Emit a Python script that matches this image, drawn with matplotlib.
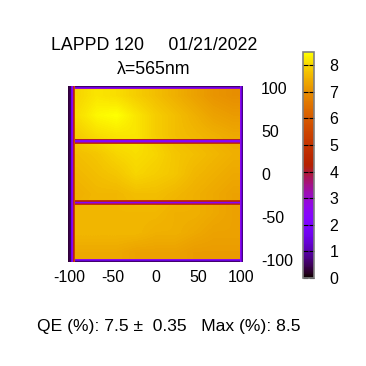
import numpy as np
import matplotlib
matplotlib.use("Agg")
import matplotlib.pyplot as plt
from matplotlib.colors import Normalize

plt.rcParams['font.family'] = ['Liberation Sans', 'DejaVu Sans']
plt.rcParams['axes.unicode_minus'] = False

# QE map (%), coarse readings, rows top -> bottom, columns left -> right
qe_x = [-95, -70, -45, -20, 5, 30, 55, 80, 100]
qe_y = [95, 70, 45, 28, 0, -25, -45, -70, -95]
qe_top = [[8.0, 8.2, 8.1, 7.9, 7.7, 7.5, 7.3, 7.1, 7.0],
          [8.1, 8.4, 8.5, 8.2, 7.9, 7.7, 7.5, 7.3, 7.2],
          [7.9, 8.1, 8.2, 8.2, 7.9, 7.7, 7.6, 7.5, 7.4]]
qe_mid = [[7.7, 7.8, 8.0, 8.1, 8.0, 7.8, 7.7, 7.6, 7.5],
          [7.6, 7.7, 7.8, 8.0, 7.9, 7.8, 7.6, 7.5, 7.4],
          [7.5, 7.6, 7.6, 7.7, 7.7, 7.6, 7.5, 7.4, 7.3]]
qe_bot = [[7.6, 7.6, 7.6, 7.6, 7.6, 7.5, 7.5, 7.4, 7.3],
          [7.6, 7.6, 7.6, 7.6, 7.5, 7.5, 7.4, 7.3, 7.3],
          [7.4, 7.4, 7.4, 7.3, 7.3, 7.3, 7.2, 7.2, 7.2]]

# window edges and grid spacers (values from outside going in)
edge_left = [0.3, 0.4, 0.5, 0.8, 1.6, 2.5, 4.0, 5.5]
edge_right = [0.7, 1.4, 2.6, 4.6]
edge_top = [0.6, 1.5, 3.0, 4.8]
edge_bottom = [0.6, 1.4, 2.7, 4.6]
spacer_y = [38, -33]
spacer_prof = [5.0, 4.0, 2.5, 2.3, 3.6, 5.0]

lim = 102
step = 1.0
vmin, vmax = 0, 8.5
cmap = plt.get_cmap('gnuplot')
norm = Normalize(vmin, vmax)

fig = plt.figure(figsize=(3.66, 3.66), dpi=100)
ax = fig.add_axes([68/366, 104/366, 175/366, 176/366])

qe = np.array(qe_top + qe_mid + qe_bot)
ax.imshow(qe, cmap=cmap, norm=norm, extent=[-lim, lim, -lim, lim],
          interpolation='bilinear', aspect='auto', origin='upper')

ys = np.array([-lim, lim])
xs = np.array([-lim, lim])

# spacers
for yc in spacer_y:
    n = len(spacer_prof)
    yb = yc + n*step/2 - np.arange(n+1)*step
    ax.pcolormesh(xs, yb[::-1], np.array(spacer_prof[::-1])[:, None], cmap=cmap, norm=norm)

# top / bottom edges
n = len(edge_top)
yb = lim - np.arange(n+1)*step
ax.pcolormesh(xs, yb[::-1], np.array(edge_top[::-1])[:, None], cmap=cmap, norm=norm)
n = len(edge_bottom)
yb = -lim + np.arange(n+1)*step
ax.pcolormesh(xs, yb, np.array(edge_bottom)[:, None], cmap=cmap, norm=norm)
# left / right edges
n = len(edge_right)
xb = lim - np.arange(n+1)*step
ax.pcolormesh(xb[::-1], ys, np.array(edge_right[::-1])[None, :], cmap=cmap, norm=norm)
n = len(edge_left)
xb = -lim + np.arange(n+1)*step
ax.pcolormesh(xb, ys, np.array(edge_left)[None, :], cmap=cmap, norm=norm)

ax.set_xlim(-lim, lim)
ax.set_ylim(-lim, lim)
ax.set_xticks([-100, -50, 0, 50, 100])
ax.set_yticks([-100, -50, 0, 50, 100])
ax.yaxis.tick_right()
ax.tick_params(axis='x', length=0, pad=6, labelsize=11.5)
ax.tick_params(axis='y', length=0, pad=13, labelsize=11.5)
for s in ax.spines.values():
    s.set_visible(False)

# colorbar
cax = fig.add_axes([303/366, 88/366, 11/366, 226/366])
cb = fig.colorbar(matplotlib.cm.ScalarMappable(norm=norm, cmap=cmap), cax=cax)
cb.set_ticks(range(0, 9))
cb.outline.set_edgecolor('#808080')
cb.outline.set_linewidth(1.2)
cax.tick_params(direction='in', length=3.5, width=0.8, left=True, right=True,
                pad=11, labelsize=11.5, color='black')

fig.text(0.42, 1 - 45/366, "LAPPD 120     01/21/2022", ha='center', va='center', fontsize=12.8)
fig.text(0.42, 1 - 70/366, "λ=565nm", ha='center', va='center', fontsize=12.8)
fig.text(0.462, 1 - 326/366, "QE (%): 7.5 ±  0.35   Max (%): 8.5",
         ha='center', va='center', fontsize=12.6)

fig.savefig('out.png', dpi=100)
